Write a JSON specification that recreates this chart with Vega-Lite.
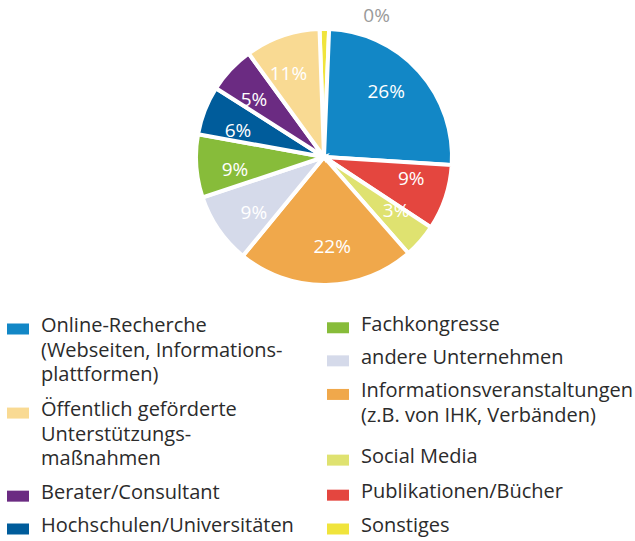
{
  "$schema": "https://vega.github.io/schema/vega-lite/v6.json",
  "padding": {"left": 7, "top": 0, "right": 0, "bottom": 0},
  "spacing": 0,
  "config": {"view": {"stroke": null}, "font": "Open Sans"},
  "vconcat": [
    {
      "width": 620,
      "height": 314,
      "data": {"values": [
          {"name": "Sonstiges", "value": 1.2, "label": "0%", "ord": 0},
          {"name": "Online-Recherche", "value": 25.5, "label": "26%", "ord": 1},
          {"name": "Publikationen/Bücher", "value": 8.3, "label": "9%", "ord": 2},
          {"name": "Social Media", "value": 4.3, "label": "3%", "ord": 3},
          {"name": "Informationsveranstaltungen", "value": 22.5, "label": "22%", "ord": 4},
          {"name": "andere Unternehmen", "value": 9, "label": "9%", "ord": 5},
          {"name": "Fachkongresse", "value": 8, "label": "9%", "ord": 6},
          {"name": "Hochschulen/Universitäten", "value": 6.2, "label": "6%", "ord": 7},
          {"name": "Berater/Consultant", "value": 6, "label": "5%", "ord": 8},
          {"name": "Öffentlich geförderte Unterstützungsmaßnahmen", "value": 9.5, "label": "11%", "ord": 9}
      ]},
      "encoding": {
        "theta": {"field": "value", "type": "quantitative", "stack": true, "scale": {"range": [-0.035, 6.2482]}},
        "order": {"field": "ord", "type": "quantitative"}
      },
      "layer": [
        {
          "mark": {"type": "arc", "outerRadius": 128, "stroke": "white", "strokeWidth": 4},
          "encoding": {
            "color": {
              "field": "name", "type": "nominal", "legend": null,
              "scale": {
                "domain": ["Sonstiges", "Online-Recherche", "Publikationen/Bücher", "Social Media", "Informationsveranstaltungen", "andere Unternehmen", "Fachkongresse", "Hochschulen/Universitäten", "Berater/Consultant", "Öffentlich geförderte Unterstützungsmaßnahmen"],
                "range": ["#f0e43c", "#1287c6", "#e4463f", "#dfe270", "#f0a84b", "#d5daea", "#87bc3a", "#005c9b", "#6b2b82", "#f9da93"]
              }
            }
          }
        },
        {
          "transform": [{"filter": "datum.name !== 'Sonstiges'"}],
          "mark": {"type": "text", "radius": 90, "fill": "white", "fontSize": 19, "fontWeight": "normal"},
          "encoding": {"text": {"field": "label"}}
        },
        {
          "transform": [{"filter": "datum.name === 'Sonstiges'"}],
          "mark": {"type": "text", "radius": 136, "fill": "#9a9a9a", "fontSize": 19, "align": "left", "baseline": "middle", "dx": 39, "dy": -5},
          "encoding": {"text": {"field": "label"}}
        }
      ]
    },
    {
      "width": 620,
      "height": 227,
      "data": {"values": [
          {"name": "Online-Recherche", "col": 0, "row": 0, "legend": "Online-Recherche\n(Webseiten, Informations-\nplattformen)"},
          {"name": "Öffentlich geförderte Unterstützungsmaßnahmen", "col": 0, "row": 3.43, "legend": "Öffentlich geförderte\nUnterstützungs-\nmaßnahmen"},
          {"name": "Berater/Consultant", "col": 0, "row": 6.82, "legend": "Berater/Consultant"},
          {"name": "Hochschulen/Universitäten", "col": 0, "row": 8.16, "legend": "Hochschulen/Universitäten"},
          {"name": "Fachkongresse", "col": 1, "row": -0.05, "legend": "Fachkongresse"},
          {"name": "andere Unternehmen", "col": 1, "row": 1.3, "legend": "andere Unternehmen"},
          {"name": "Informationsveranstaltungen", "col": 1, "row": 2.67, "legend": "Informationsveranstaltungen\n(z.B. von IHK, Verbänden)"},
          {"name": "Social Media", "col": 1, "row": 5.35, "legend": "Social Media"},
          {"name": "Publikationen/Bücher", "col": 1, "row": 6.78, "legend": "Publikationen/Bücher"},
          {"name": "Sonstiges", "col": 1, "row": 8.16, "legend": "Sonstiges"}
      ]},
      "encoding": {
        "x": {"field": "col", "type": "quantitative", "axis": null, "scale": {"domain": [0, 1], "range": [4, 324]}},
        "y": {"field": "row", "type": "quantitative", "axis": null, "scale": {"domain": [0, 8.16], "range": [12, 212]}}
      },
      "layer": [
        {
          "mark": {"type": "point", "shape": "M-1,-0.5H1V0.5H-1Z", "size": 484, "filled": true, "opacity": 1, "strokeWidth": 0},
          "encoding": {
            "color": {
              "field": "name", "type": "nominal", "legend": null,
              "scale": {
                "domain": ["Sonstiges", "Online-Recherche", "Publikationen/Bücher", "Social Media", "Informationsveranstaltungen", "andere Unternehmen", "Fachkongresse", "Hochschulen/Universitäten", "Berater/Consultant", "Öffentlich geförderte Unterstützungsmaßnahmen"],
                "range": ["#f0e43c", "#1287c6", "#e4463f", "#dfe270", "#f0a84b", "#d5daea", "#87bc3a", "#005c9b", "#6b2b82", "#f9da93"]
              }
            }
          }
        },
        {
          "mark": {"type": "text", "align": "left", "baseline": "top", "dx": 23, "dy": -13, "fontSize": 20, "lineHeight": 24.5, "lineBreak": "\n", "fill": "#2b2b2b"},
          "encoding": {"text": {"field": "legend"}}
        }
      ]
    }
  ]
}
